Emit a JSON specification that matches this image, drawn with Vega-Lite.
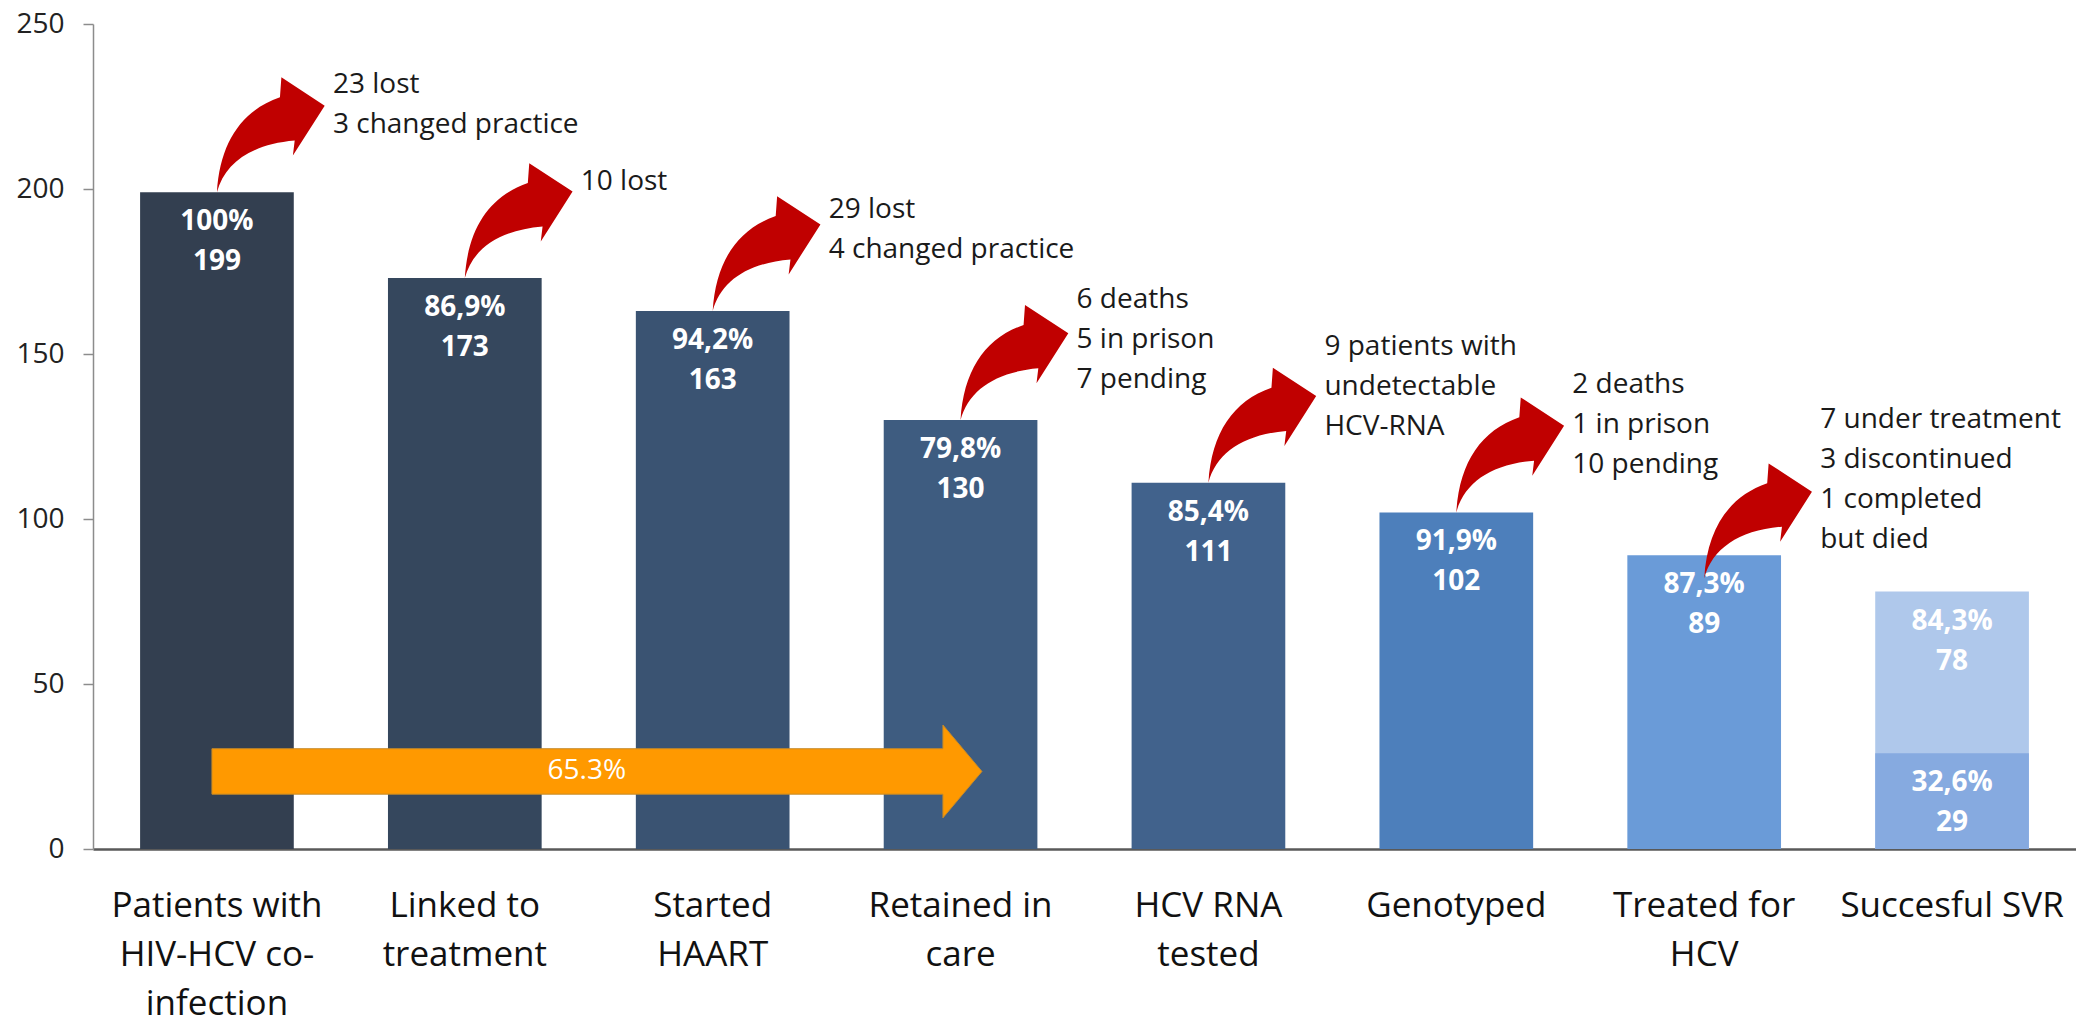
{
  "$schema": "https://vega.github.io/schema/vega-lite/v6.json",
  "width": 1983,
  "height": 825,
  "autosize": {"type": "none"},
  "padding": {"left": 93, "top": 24, "right": 0, "bottom": 177},
  "background": "white",
  "config": {"view": {"stroke": null}, "font": "Open Sans"},
  "datasets": {
    "bars": [
      {"stage": "Patients with|HIV-HCV co-|infection", "value": 199, "shade": "s1", "label": ["100%", "199"]},
      {"stage": "Linked to|treatment", "value": 173, "shade": "s2", "label": ["86,9%", "173"]},
      {"stage": "Started|HAART", "value": 163, "shade": "s3", "label": ["94,2%", "163"]},
      {"stage": "Retained in|care", "value": 130, "shade": "s4", "label": ["79,8%", "130"]},
      {"stage": "HCV RNA|tested", "value": 111, "shade": "s5", "label": ["85,4%", "111"]},
      {"stage": "Genotyped", "value": 102, "shade": "s6", "label": ["91,9%", "102"]},
      {"stage": "Treated for|HCV", "value": 89, "shade": "s7", "label": ["87,3%", "89"]},
      {"stage": "Succesful SVR", "value": 78, "shade": "s8a", "label": ["84,3%", "78"]},
      {"stage": "Succesful SVR", "value": 29, "shade": "s8b", "label": ["32,6%", "29"]}
    ],
    "notes": [
      {"stage": "Patients with|HIV-HCV co-|infection", "value": 199, "ty": 235.8, "note": ["23 lost", "3 changed practice"]},
      {"stage": "Linked to|treatment", "value": 173, "ty": 206.4, "note": ["10 lost"]},
      {"stage": "Started|HAART", "value": 163, "ty": 197.9, "note": ["29 lost", "4 changed practice"]},
      {"stage": "Retained in|care", "value": 130, "ty": 170.6, "note": ["6 deaths", "5 in prison", "7 pending"]},
      {"stage": "HCV RNA|tested", "value": 111, "ty": 156.4, "note": ["9 patients with", "undetectable", "HCV-RNA"]},
      {"stage": "Genotyped", "value": 102, "ty": 144.8, "note": ["2 deaths", "1 in prison", "10 pending"]},
      {"stage": "Treated for|HCV", "value": 82, "ty": 134.2, "note": ["7 under treatment", "3 discontinued", "1 completed", "but died"]}
    ],
    "span": [
      {"stage": "Patients with|HIV-HCV co-|infection", "labelStage": "Linked to|treatment", "value": 23.5, "label": "65.3%"}
    ]
  },
  "layer": [
    {
      "data": {"name": "bars"},
      "mark": {"type": "bar"},
      "encoding": {
        "x": {
          "field": "stage", "type": "nominal",
          "scale": {
            "domain": ["Patients with|HIV-HCV co-|infection", "Linked to|treatment", "Started|HAART", "Retained in|care", "HCV RNA|tested", "Genotyped", "Treated for|HCV", "Succesful SVR"],
            "paddingInner": 0.38, "paddingOuter": 0.19
          },
          "axis": {
            "title": null, "labelExpr": "split(datum.label, '|')", "labelAngle": 0,
            "labelFontSize": 35, "labelLineHeight": 49, "labelPadding": 39, "labelBaseline": "top",
            "labelLimit": 500, "labelOverlap": false, "labelBound": false, "labelColor": "#111111",
            "ticks": false, "domainColor": "#595959", "domainWidth": 2.5
          }
        },
        "y": {
          "field": "value", "type": "quantitative", "stack": null,
          "scale": {"domain": [0, 250], "nice": false},
          "axis": {
            "title": null, "values": [0, 50, 100, 150, 200, 250], "grid": false,
            "labelFontSize": 28, "labelColor": "#222222", "labelPadding": 19,
            "tickSize": 10, "tickColor": "#8c8c8c", "tickWidth": 1.5,
            "domainColor": "#8c8c8c", "domainWidth": 1.5
          }
        },
        "color": {
          "field": "shade", "type": "nominal", "legend": null,
          "scale": {
            "domain": ["s1", "s2", "s3", "s4", "s5", "s6", "s7", "s8a", "s8b"],
            "range": ["#333f50", "#35475d", "#3a5372", "#3e5c80", "#41628c", "#4d7fbb", "#6a9bd8", "#afc8eb", "#86aae0"]
          }
        }
      }
    },
    {
      "data": {"name": "bars"},
      "mark": {"type": "text", "baseline": "top", "align": "center", "dy": 16, "fontSize": 28, "fontWeight": "bold", "lineHeight": 40, "color": "#ffffff"},
      "encoding": {
        "x": {"field": "stage", "type": "nominal"},
        "y": {"field": "value", "type": "quantitative"},
        "text": {"field": "label", "type": "nominal"}
      }
    },
    {
      "data": {"name": "span"},
      "mark": {
        "type": "point", "filled": true, "opacity": 1, "size": 640000,
        "shape": "M-0.0125,-0.0568 L1.815,-0.0568 L1.815,-0.116 L1.9125,0 L1.815,0.116 L1.815,0.0568 L-0.0125,0.0568 Z",
        "fill": "#ff9900", "stroke": "#c48a2a", "strokeWidth": 1
      },
      "encoding": {
        "x": {"field": "stage", "type": "nominal"},
        "y": {"field": "value", "type": "quantitative"}
      }
    },
    {
      "data": {"name": "span"},
      "mark": {"type": "text", "baseline": "middle", "align": "center", "dx": 122, "fontSize": 28, "color": "#ffffff"},
      "encoding": {
        "x": {"field": "labelStage", "type": "nominal"},
        "y": {"field": "value", "type": "quantitative"},
        "text": {"field": "label", "type": "nominal"}
      }
    },
    {
      "data": {"name": "notes"},
      "mark": {
        "type": "point", "filled": true, "opacity": 1, "size": 57600,
        "shape": "M0,0 C0.025,-0.417 0.208,-0.683 0.525,-0.792 L0.537,-0.958 L0.898,-0.722 L0.633,-0.306 L0.648,-0.431 C0.292,-0.4 0.067,-0.25 0,0 Z",
        "color": "#c00000", "strokeWidth": 0
      },
      "encoding": {
        "x": {"field": "stage", "type": "nominal"},
        "y": {"field": "value", "type": "quantitative"}
      }
    },
    {
      "data": {"name": "notes"},
      "mark": {"type": "text", "baseline": "top", "align": "left", "dx": 116, "fontSize": 28, "lineHeight": 40, "color": "#1a1a1a"},
      "encoding": {
        "x": {"field": "stage", "type": "nominal"},
        "y": {"field": "ty", "type": "quantitative"},
        "text": {"field": "note", "type": "nominal"}
      }
    }
  ]
}
